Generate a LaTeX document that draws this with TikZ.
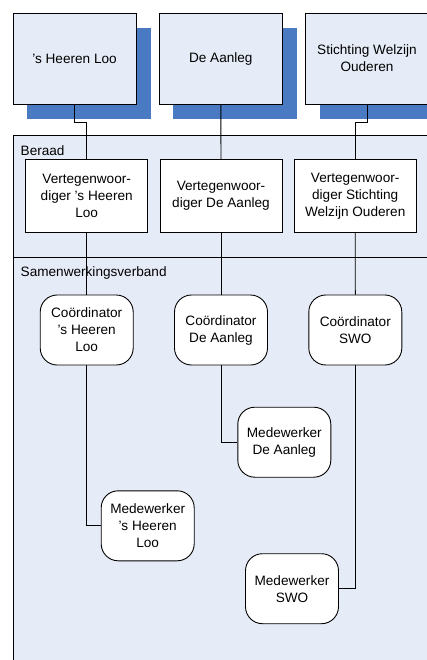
\documentclass[tikz,border=0pt]{standalone}
\usepackage{fontspec}
\setmainfont{Liberation Sans}
\usetikzlibrary{backgrounds}
\definecolor{panelblue}{HTML}{E6ECF7}
\definecolor{shadowblue}{HTML}{4A7AC2}
\begin{document}
\begin{tikzpicture}[x=1pt,y=-1pt,
  every node/.style={font=\fontsize{13.6}{17}\selectfont, align=center, inner sep=0pt},
  lbl/.style={line width=0.9pt},
  orgbox/.style={draw=black, line width=0.9pt, fill=panelblue, minimum width=123pt, minimum height=91pt},
  repbox/.style={draw=black, line width=0.9pt, fill=white, minimum width=122pt, minimum height=73pt},
  roundbox/.style={draw=black, line width=0.9pt, fill=white, rounded corners=17pt, minimum width=93pt, minimum height=70pt},
  panel/.style={draw=black, line width=0.9pt, fill=panelblue},
  conn/.style={draw=black, line width=0.9pt},
  paneltext/.style={anchor=west}
]
\useasboundingbox (0,0) rectangle (427,660);
\clip (0,0) rectangle (427,660);
% organisations
\node[orgbox] (t1) at (74.5,58.5) {'s Heeren Loo};
\node[orgbox] (t2) at (220.8,58.5) {De Aanleg};
\node[orgbox] (t3) at (367,58.5) {Stichting Welzijn\\Ouderen};
% representatives
\node[repbox] (v1) at (86.7,196) {Vertegenwoor-\\diger 's Heeren\\Loo};
\node[repbox] (v2) at (221,196) {Vertegenwoor-\\diger De Aanleg};
\node[repbox] (v3) at (355.2,196) {Vertegenwoor-\\diger Stichting\\Welzijn Ouderen};
% coordinators
\node[roundbox] (c1) at (86.7,330) {Coördinator\\'s Heeren\\Loo};
\node[roundbox] (c2) at (221,330) {Coördinator\\De Aanleg};
\node[roundbox] (c3) at (355.3,330) {Coördinator\\SWO};
% employees
\node[roundbox] (m2) at (284.3,442.2) {Medewerker\\De Aanleg};
\node[roundbox] (m1) at (147.7,525.8) {Medewerker\\'s Heeren\\Loo};
\node[roundbox] (m3) at (292,588.7) {Medewerker\\SWO};
\begin{pgfonlayer}{background}
  \path[panel] (13,135) rectangle (445,257.3);
  \path[panel] (13,257.3) rectangle (445,680);
  \node[paneltext] (lb) at (20.5,150.5) {Beraad};
  \node[paneltext] (ls) at (20.5,272.5) {Samenwerkingsverband};
  \foreach \n in {t1,t2,t3}{
    \fill[shadowblue] ([shift={(14.5,15)}]\n.south west) rectangle ([shift={(14.5,15)}]\n.north east);
  }
  \draw[conn] (t1.south) -- ++(0,18.5) -| (v1.north);
  \draw[conn] (t2.south) -- (v2.north);
  \draw[conn] (t3.south) -- ++(0,18.5) -| (v3.north);
  \draw[conn] (v1.south) -- (c1.north);
  \draw[conn] (v2.south) -- (c2.north);
  \draw[conn] (v3.south) -- (c3.north);
  \draw[conn] (c1.south) |- (m1.west);
  \draw[conn] (c2.south) |- (m2.west);
  \draw[conn] (c3.south) |- (m3.east);
\end{pgfonlayer}
\end{tikzpicture}
\end{document}
